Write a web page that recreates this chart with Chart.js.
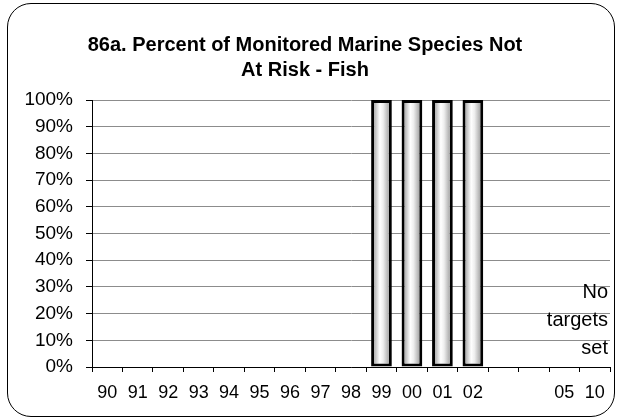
<!DOCTYPE html>
<html>
<head>
<meta charset="utf-8">
<script src="https://cdn.jsdelivr.net/npm/chart.js@4/dist/chart.umd.min.js"></script>
<style>
  html, body { margin: 0; padding: 0; background: #fff; }
  #wrap { position: relative; width: 617px; height: 420px; }
  #frame {
    position: absolute; left: 7px; top: 3px; width: 606px; height: 412px;
    border: 1.5px solid #000; border-radius: 24px; pointer-events: none;
  }
</style>
</head>
<body>
<div id="wrap">
  <canvas id="fishChart" width="617" height="420"></canvas>
  <div id="frame"></div>
</div>
<script>
// categorie (anni) e valori
const years = ['90', '91', '92', '93', '94', '95', '96', '97', '98', '99', '00', '01', '02', '', '', '05', '10'];
const fishNotAtRisk = [null, null, null, null, null, null, null, null, null, 100, 100, 100, 100, null, null, null, null];
const yTickValues = [0, 10, 20, 30, 40, 50, 60, 70, 80, 90, 100];
const noteLines = ['No', 'targets', 'set'];
const noteLevels = [28, 17.5, 7];

const FONT = '"Liberation Sans", Arial, sans-serif';

// sfumatura "cilindro": applicata a ogni barra prima del disegno
const cylinderPlugin = {
    id: 'cylinder',
    beforeDatasetsDraw(chart) {
        const ctx = chart.ctx;
        chart.getDatasetMeta(0).data.forEach(bar => {
            if (!isFinite(bar.x) || !isFinite(bar.width) || bar.width <= 0) return;
            const g = ctx.createLinearGradient(bar.x - bar.width / 2, 0, bar.x + bar.width / 2, 0);
            g.addColorStop(0, '#858585');
            g.addColorStop(0.42, '#ffffff');
            g.addColorStop(0.58, '#eeeeee');
            g.addColorStop(1, '#858585');
            bar.options = Object.assign({}, bar.options, { backgroundColor: g });
        });
    }
};

const notePlugin = {
    id: 'noTargets',
    afterDatasetsDraw(chart) {
        const { ctx, chartArea, scales } = chart;
        ctx.save();
        ctx.font = '20px ' + FONT;
        ctx.fillStyle = '#000';
        ctx.textAlign = 'right';
        ctx.textBaseline = 'middle';
        noteLines.forEach((txt, i) => {
            ctx.fillText(txt, chartArea.right - 2, scales.y.getPixelForValue(noteLevels[i]));
        });
        ctx.restore();
    }
};

new Chart(document.getElementById('fishChart'), {
    type: 'bar',
    data: {
        labels: years,
        datasets: [{
            data: fishNotAtRisk,
            backgroundColor: '#cccccc',
            borderColor: '#000',
            borderWidth: 3,
            borderSkipped: false,
            barPercentage: 0.68,
            categoryPercentage: 1
        }]
    },
    options: {
        responsive: false,
        animation: false,
        layout: { padding: { left: 0, right: 7, top: 0, bottom: 0 } },
        plugins: {
            legend: { display: false },
            tooltip: { enabled: false },
            title: {
                display: true,
                text: ['86a. Percent of Monitored Marine Species Not', 'At Risk - Fish'],
                color: '#000',
                font: { family: FONT, size: 20, weight: 'bold', lineHeight: 1.25 },
                padding: { top: 33, bottom: 17 }
            }
        },
        scales: {
            x: {
                grid: { drawOnChartArea: false, drawTicks: true, tickLength: 5, tickColor: '#000', offset: true },
                border: { color: '#000', width: 1 },
                ticks: { color: '#000', font: { family: FONT, size: 18 }, padding: 10, maxRotation: 0, autoSkip: false },
                afterFit(scale) { scale.height = 53; }
            },
            y: {
                min: 0,
                max: 100,
                afterBuildTicks(scale) { scale.ticks = yTickValues.map(v => ({ value: v })); },
                grid: { color: '#8c8c8c', tickColor: '#000', tickLength: 6 },
                border: { color: '#000', width: 1 },
                ticks: { color: '#000', font: { family: FONT, size: 19 }, padding: 13, callback: v => v + '%' },
                afterFit(scale) { scale.width = 92; }
            }
        }
    },
    plugins: [cylinderPlugin, notePlugin]
});
</script>
</body>
</html>
